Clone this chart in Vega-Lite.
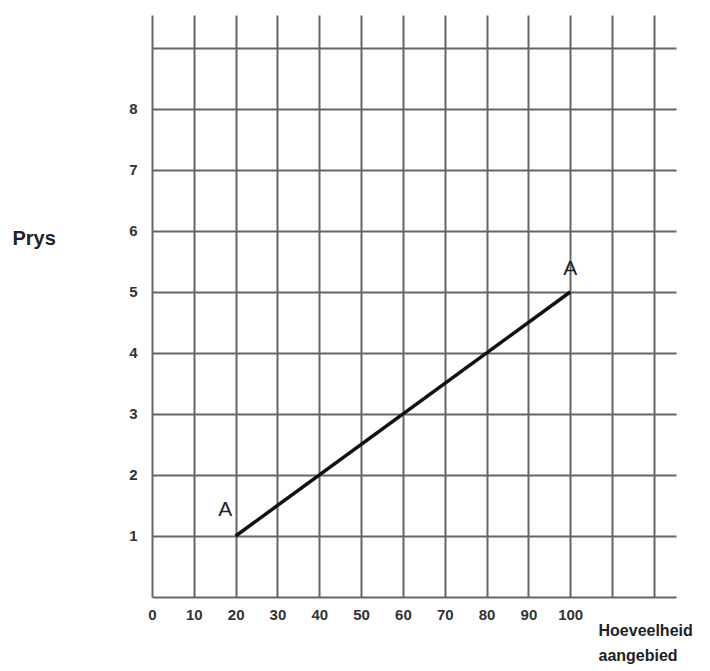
{
  "$schema": "https://vega.github.io/schema/vega-lite/v6.json",
  "width": 524,
  "height": 582,
  "autosize": {"type": "none"},
  "padding": {"left": 152, "top": 15, "right": 34, "bottom": 74},
  "background": "white",
  "config": {
    "view": {"stroke": null},
    "axis": {
      "grid": true,
      "gridColor": "#666666",
      "gridWidth": 2,
      "gridOpacity": 1,
      "domain": false,
      "ticks": false,
      "labelFont": "Liberation Sans Narrow, Liberation Sans, Arial",
      "labelFontWeight": "bold",
      "labelFontSize": 15,
      "labelColor": "#333333",
      "titleFont": "Liberation Sans Narrow, Liberation Sans, Arial",
      "titleFontWeight": "bold",
      "titleColor": "#222222"
    }
  },
  "datasets": {
    "line": [
      {"q": 20, "p": 1},
      {"q": 100, "p": 5}
    ],
    "labels": [
      {"q": 17.5, "p": 1.43, "t": "A"},
      {"q": 100, "p": 5.38, "t": "A"}
    ]
  },
  "layer": [
    {
      "data": {"name": "line"},
      "mark": {"type": "line", "color": "#111111", "strokeWidth": 3.5, "clip": false},
      "encoding": {
        "x": {
          "field": "q",
          "type": "quantitative",
          "scale": {"domain": [0, 125.3], "nice": false, "zero": false},
          "axis": {
            "values": [0, 10, 20, 30, 40, 50, 60, 70, 80, 90, 100, 110, 120],
            "format": "d",
            "labelExpr": "datum.value <= 100 ? datum.label : ''",
            "labelPadding": 10,
            "labelFlush": false,
            "title": ["Hoeveelheid", "aangebied"],
            "titleFontSize": 16,
            "titleLineHeight": 25,
            "titleAnchor": "start",
            "titleAlign": "left",
            "titleBaseline": "top",
            "titleX": 446,
            "titleY": 25
          }
        },
        "y": {
          "field": "p",
          "type": "quantitative",
          "scale": {"domain": [0, 9.54], "nice": false, "zero": false},
          "axis": {
            "values": [0, 1, 2, 3, 4, 5, 6, 7, 8, 9],
            "format": "d",
            "labelExpr": "datum.value >= 1 && datum.value <= 8 ? datum.label : ''",
            "labelPadding": 15,
            "labelFlush": false,
            "title": "Prys",
            "titleAngle": 0,
            "titleFontSize": 20,
            "titleAlign": "left",
            "titleBaseline": "middle",
            "titleX": -140,
            "titleY": 223
          }
        }
      }
    },
    {
      "data": {"name": "labels"},
      "mark": {"type": "text", "fontSize": 21, "font": "Liberation Sans, Arial", "color": "#222222", "baseline": "middle", "align": "center"},
      "encoding": {
        "x": {"field": "q", "type": "quantitative"},
        "y": {"field": "p", "type": "quantitative"},
        "text": {"field": "t"}
      }
    }
  ]
}
